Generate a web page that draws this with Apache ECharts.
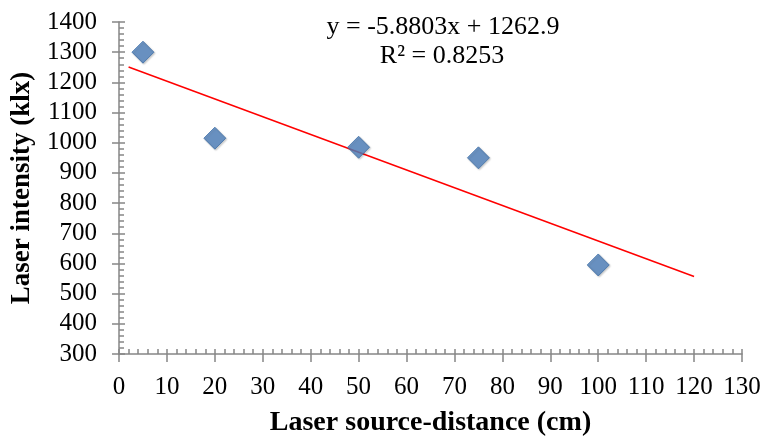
<!DOCTYPE html>
<html>
<head>
<meta charset="utf-8">
<script src="https://cdn.jsdelivr.net/npm/echarts@6/dist/echarts.min.js"></script>
<style>html,body{margin:0;padding:0;background:#fff;}#c{width:763px;height:437px;}</style>
</head>
<body>
<div id="c"></div>
<script>
const distances = [5, 20, 50, 75, 100];
const intensities = [1300, 1015, 985, 950, 595];
const trendX = [2, 120];
const trendY = [1251, 557];
const equationText = 'y = -5.8803x + 1262.9';
const r2Text = 'R² = 0.8253';
const xTitle = 'Laser source-distance (cm)';
const yTitle = 'Laser intensity (klx)';

const font = '"Liberation Serif", "Times New Roman", serif';
const axisColor = '#868686';
const G = {left: 119, right: 21, top: 22, bottom: 83, containLabel: false, outerBoundsMode: 'none'};
const chart = echarts.init(document.getElementById('c'));
const baseX = {type: 'value', min: 0, max: 130, interval: 10};
const baseY = {type: 'value', min: 300, max: 1400, interval: 100};
const tickStyle = {color: axisColor, width: 1.5};
chart.setOption({
  animation: false,
  textStyle: {fontFamily: font},
  grid: [Object.assign({}, G), Object.assign({}, G)],
  graphic: [
    {type: 'text', style: {text: equationText, x: 443, y: 27, font: '26px ' + font, fill: '#000', textAlign: 'center', textVerticalAlign: 'middle'}},
    {type: 'text', style: {text: r2Text, x: 442, y: 56, font: '26px ' + font, fill: '#000', textAlign: 'center', textVerticalAlign: 'middle'}}
  ],
  xAxis: [
    Object.assign({}, baseX, {
      gridIndex: 0, position: 'bottom',
      name: xTitle, nameLocation: 'middle', nameGap: 55,
      nameTextStyle: {fontFamily: font, fontSize: 28, fontWeight: 'bold', color: '#000'},
      axisLine: {show: true, lineStyle: tickStyle},
      axisTick: {show: true, inside: false, length: 8, lineStyle: tickStyle},
      axisLabel: {fontFamily: font, fontSize: 25, color: '#000', margin: 21, formatter: v => String(v)},
      splitLine: {show: false}
    }),
    Object.assign({}, baseX, {
      gridIndex: 1, position: 'bottom',
      axisLine: {show: false},
      axisTick: {show: true, inside: true, length: 5, lineStyle: tickStyle},
      minorTick: {show: true, splitNumber: 5, length: 5, lineStyle: tickStyle},
      axisLabel: {show: false},
      splitLine: {show: false}
    })
  ],
  yAxis: [
    Object.assign({}, baseY, {
      gridIndex: 0, position: 'left',
      name: yTitle, nameLocation: 'middle', nameGap: 83, nameRotate: 90,
      nameTextStyle: {fontFamily: font, fontSize: 27, fontWeight: 'bold', color: '#000'},
      axisLine: {show: true, lineStyle: tickStyle},
      axisTick: {show: true, inside: false, length: 7, lineStyle: tickStyle},
      axisLabel: {fontFamily: font, fontSize: 25, color: '#000', margin: 22, formatter: v => String(v)},
      splitLine: {show: false}
    }),
    Object.assign({}, baseY, {
      gridIndex: 1, position: 'left',
      axisLine: {show: false},
      axisTick: {show: true, inside: true, length: 6, lineStyle: tickStyle},
      minorTick: {show: true, splitNumber: 5, length: 5, lineStyle: tickStyle},
      axisLabel: {show: false},
      splitLine: {show: false}
    })
  ],
  series: [
    {
      type: 'line', xAxisIndex: 0, yAxisIndex: 0,
      data: trendX.map((x, i) => [x, trendY[i]]),
      symbol: 'none', lineStyle: {color: '#FF0000', width: 1.5}, z: 2
    },
    {
      type: 'scatter', xAxisIndex: 0, yAxisIndex: 0,
      data: distances.map((x, i) => [x, intensities[i]]),
      symbol: 'diamond', symbolSize: [22, 22],
      itemStyle: {color: '#4F81BD', borderColor: '#3F6FA8', borderWidth: 1, shadowColor: 'rgba(0,0,0,0.25)', shadowBlur: 2, shadowOffsetX: 1, shadowOffsetY: 1},
      z: 3
    }
  ]
});
</script>
</body>
</html>
